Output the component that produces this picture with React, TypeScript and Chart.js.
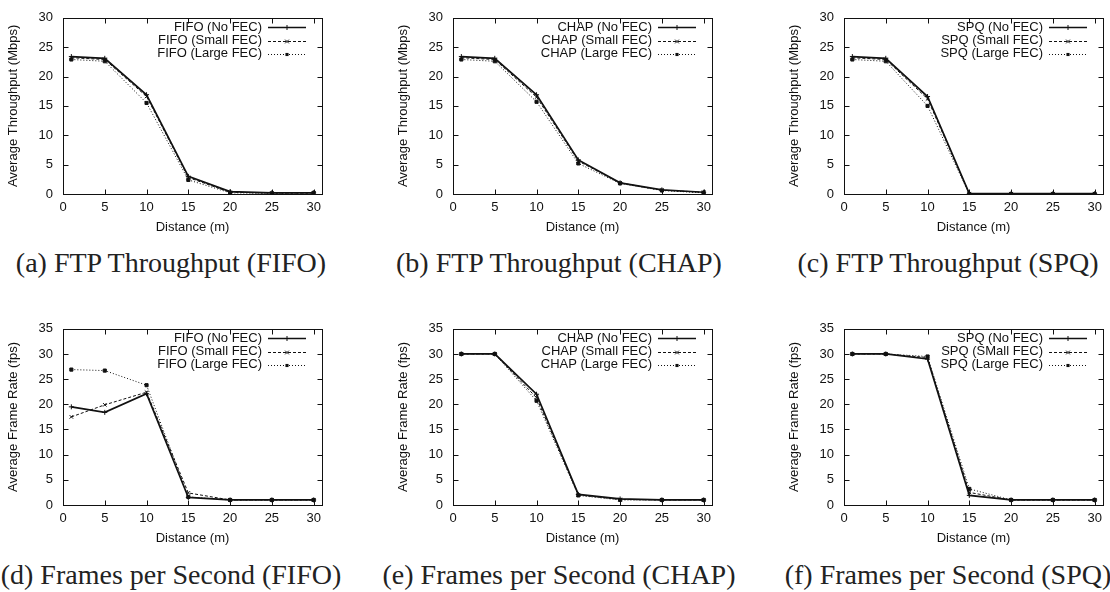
import React, { useEffect, useRef } from 'react';
import { Chart, registerables } from 'chart.js';

Chart.register(...registerables);

// ---------- data ----------
const distances = [1, 5, 10, 15, 20, 25, 30];
const xTickValues = [0, 5, 10, 15, 20, 25, 30];
const throughputTickValues = [0, 5, 10, 15, 20, 25, 30];
const fpsTickValues = [0, 5, 10, 15, 20, 25, 30, 35];

const fifoThrNoFec = [23.4, 23.1, 16.9, 3.0, 0.4, 0.2, 0.2];
const fifoThrSmallFec = [23.2, 22.9, 16.6, 2.8, 0.3, 0.15, 0.15];
const fifoThrLargeFec = [22.9, 22.6, 15.5, 2.4, 0.2, 0.1, 0.2];

const chapThrNoFec = [23.4, 23.1, 16.9, 5.8, 1.9, 0.7, 0.3];
const chapThrSmallFec = [23.2, 22.9, 16.5, 5.6, 1.9, 0.65, 0.3];
const chapThrLargeFec = [22.9, 22.6, 15.7, 5.2, 1.8, 0.6, 0.2];

const spqThrNoFec = [23.4, 23.1, 16.6, 0.05, 0.05, 0.05, 0.05];
const spqThrSmallFec = [23.2, 22.9, 16.2, 0.05, 0.05, 0.05, 0.05];
const spqThrLargeFec = [22.9, 22.6, 15.0, 0.0, 0.0, 0.0, 0.0];

const fifoFpsNoFec = [19.5, 18.4, 22.1, 1.5, 1.0, 1.0, 1.0];
const fifoFpsSmallFec = [17.5, 19.9, 22.4, 2.4, 1.0, 1.0, 1.0];
const fifoFpsLargeFec = [26.9, 26.7, 23.8, 1.6, 1.0, 1.0, 1.0];

const chapFpsNoFec = [30, 30, 22.0, 2.1, 1.2, 1.0, 1.0];
const chapFpsSmallFec = [30, 30, 21.3, 2.0, 1.1, 1.0, 1.0];
const chapFpsLargeFec = [30, 30, 20.7, 1.9, 1.0, 1.0, 1.0];

const spqFpsNoFec = [30, 30, 29.0, 1.9, 1.0, 1.0, 1.0];
const spqFpsSmallFec = [30, 30, 29.3, 2.5, 1.0, 1.0, 1.0];
const spqFpsLargeFec = [30, 30, 29.5, 3.2, 1.0, 1.0, 1.0];

const xTitle = 'Distance (m)';
const thrTitle = 'Average Throughput (Mbps)';
const fpsTitle = 'Average Frame Rate (fps)';

const captions = [
  '(a) FTP Throughput (FIFO)',
  '(b) FTP Throughput (CHAP)',
  '(c) FTP Throughput (SPQ)',
  '(d) Frames per Second (FIFO)',
  '(e) Frames per Second (CHAP)',
  '(f) Frames per Second (SPQ)',
];

// ---------- layout / style ----------
const W = 330;
const H = 240;
const Y_AXIS_W = 63;
const PAD_TOP = 11;
const PLOT_W = 259;
const PLOT_H = 183;
const X_AXIS_H = 41;
const INK = '#111';
const FONT = "'Liberation Sans', Arial, Helvetica, sans-serif";

const kindStyles = [
  { borderWidth: 1.7, borderDash: [] as number[], pointStyle: 'cross', pointRadius: 2.5 },
  { borderWidth: 1, borderDash: [3, 2], pointStyle: 'crossRot', pointRadius: 2.5 },
  { borderWidth: 1, borderDash: [1, 2], pointStyle: 'rect', pointRadius: 2.2 },
];

function drawMarker(ctx: CanvasRenderingContext2D, style: string, x: number, y: number, r: number) {
  ctx.save();
  ctx.setLineDash([]);
  ctx.lineWidth = 1;
  ctx.strokeStyle = INK;
  ctx.fillStyle = INK;
  ctx.beginPath();
  if (style === 'cross') {
    ctx.moveTo(x - r, y); ctx.lineTo(x + r, y);
    ctx.moveTo(x, y - r); ctx.lineTo(x, y + r);
    ctx.stroke();
  } else if (style === 'crossRot') {
    const d = r * 0.75;
    ctx.moveTo(x - d, y - d); ctx.lineTo(x + d, y + d);
    ctx.moveTo(x - d, y + d); ctx.lineTo(x + d, y - d);
    ctx.stroke();
  } else {
    const s = r * Math.SQRT1_2;
    ctx.fillRect(x - s, y - s, 2 * s, 2 * s);
  }
  ctx.restore();
}

const framePlugin = {
  id: 'gnuFrame',
  beforeDatasetsDraw(chart: any) {
    const { ctx, chartArea } = chart;
    const l = Math.round(chartArea.left) + 0.5;
    const r = Math.round(chartArea.right) + 0.5;
    const t = Math.round(chartArea.top) + 0.5;
    const b = Math.round(chartArea.bottom) + 0.5;
    ctx.save();
    ctx.strokeStyle = INK;
    ctx.lineWidth = 1;
    ctx.setLineDash([]);
    ctx.strokeRect(l, t, r - l, b - t);
    const tl = 5;
    ctx.beginPath();
    const xs = chart.scales.x;
    xs.ticks.forEach((tk: any) => {
      const px = Math.round(xs.getPixelForValue(tk.value)) + 0.5;
      ctx.moveTo(px, b); ctx.lineTo(px, b - tl);
      ctx.moveTo(px, t); ctx.lineTo(px, t + tl);
    });
    const ys = chart.scales.y;
    ys.ticks.forEach((tk: any) => {
      const py = Math.round(ys.getPixelForValue(tk.value)) + 0.5;
      ctx.moveTo(l, py); ctx.lineTo(l + tl, py);
      ctx.moveTo(r, py); ctx.lineTo(r - tl, py);
    });
    ctx.stroke();
    ctx.restore();
  },
};

const keyPlugin = {
  id: 'gnuKey',
  afterDatasetsDraw(chart: any) {
    const { ctx, chartArea } = chart;
    const right = chartArea.right;
    ctx.save();
    ctx.font = `13px ${FONT}`;
    ctx.fillStyle = INK;
    ctx.textAlign = 'right';
    ctx.textBaseline = 'middle';
    chart.data.datasets.forEach((ds: any, i: number) => {
      const y = chartArea.top + 9.5 + 13.3 * i;
      ctx.fillText(ds.label, right - 60, y);
      const ly = Math.round(y) + 0.5;
      ctx.save();
      ctx.strokeStyle = INK;
      ctx.lineWidth = ds.borderWidth;
      ctx.setLineDash(ds.borderDash || []);
      ctx.beginPath();
      ctx.moveTo(right - 54, ly);
      ctx.lineTo(right - 16, ly);
      ctx.stroke();
      ctx.restore();
      drawMarker(ctx, ds.pointStyle, right - 35, ly, ds.pointRadius);
    });
    ctx.restore();
  },
};

type PanelProps = {
  left: number;
  top: number;
  yMax: number;
  yTicks: number[];
  yTitle: string;
  labels: string[];
  series: number[][];
};

function Panel({ left, top, yMax, yTicks, yTitle, labels, series }: PanelProps) {
  const ref = useRef<HTMLCanvasElement>(null);
  useEffect(() => {
    const datasets = series.map((vals, k) => ({
      label: labels[k],
      data: distances.map((d, i) => ({ x: d, y: vals[i] })),
      borderColor: INK,
      backgroundColor: INK,
      pointBorderColor: INK,
      pointBackgroundColor: INK,
      pointBorderWidth: 1,
      tension: 0,
      fill: false,
      ...kindStyles[k],
    }));
    const chart = new Chart(ref.current as HTMLCanvasElement, {
      type: 'line',
      data: { datasets } as any,
      plugins: [framePlugin, keyPlugin],
      options: {
        animation: false,
        responsive: false,
        devicePixelRatio: 1,
        events: [],
        layout: {
          padding: {
            left: 0,
            top: PAD_TOP,
            right: W - Y_AXIS_W - PLOT_W,
            bottom: H - PAD_TOP - PLOT_H - X_AXIS_H,
          },
        },
        plugins: { legend: { display: false }, tooltip: { enabled: false } },
        scales: {
          x: {
            type: 'linear',
            min: 0,
            max: 31,
            grid: { display: false, drawTicks: false },
            border: { display: false },
            afterFit: (s: any) => { s.height = X_AXIS_H; },
            afterBuildTicks: (s: any) => { s.ticks = xTickValues.map((v) => ({ value: v })); },
            ticks: {
              color: INK,
              padding: 6,
              font: { family: FONT, size: 13 },
              maxRotation: 0,
              autoSkip: false,
            },
            title: {
              display: true,
              text: xTitle,
              color: INK,
              font: { family: FONT, size: 13, lineHeight: 1.2 },
              padding: { top: 0, bottom: 0 },
            },
          },
          y: {
            type: 'linear',
            min: 0,
            max: yMax,
            grid: { display: false, drawTicks: false },
            border: { display: false },
            afterFit: (s: any) => { s.width = Y_AXIS_W; },
            afterBuildTicks: (s: any) => { s.ticks = yTicks.map((v) => ({ value: v })); },
            ticks: {
              color: INK,
              padding: 10,
              font: { family: FONT, size: 13 },
              autoSkip: false,
            },
            title: {
              display: true,
              text: yTitle,
              color: INK,
              font: { family: FONT, size: 13, lineHeight: 1.2 },
              padding: { top: 6, bottom: 0 },
            },
          },
        },
      } as any,
    });
    return () => chart.destroy();
  }, []);
  return (
    <canvas
      ref={ref}
      width={W}
      height={H}
      style={{ position: 'absolute', left, top, width: W, height: H }}
    />
  );
}

const colLefts = [0, 390, 781];
const rowTops = [0, 311];
const captionCenters = [171, 559, 948];
const captionRowY = [263, 575];

export default function App() {
  const panels: PanelProps[] = [
    { left: colLefts[0], top: rowTops[0], yMax: 30, yTicks: throughputTickValues, yTitle: thrTitle,
      labels: ['FIFO (No FEC)', 'FIFO (Small FEC)', 'FIFO (Large FEC)'],
      series: [fifoThrNoFec, fifoThrSmallFec, fifoThrLargeFec] },
    { left: colLefts[1], top: rowTops[0], yMax: 30, yTicks: throughputTickValues, yTitle: thrTitle,
      labels: ['CHAP (No FEC)', 'CHAP (Small FEC)', 'CHAP (Large FEC)'],
      series: [chapThrNoFec, chapThrSmallFec, chapThrLargeFec] },
    { left: colLefts[2], top: rowTops[0], yMax: 30, yTicks: throughputTickValues, yTitle: thrTitle,
      labels: ['SPQ (No FEC)', 'SPQ (Small FEC)', 'SPQ (Large FEC)'],
      series: [spqThrNoFec, spqThrSmallFec, spqThrLargeFec] },
    { left: colLefts[0], top: rowTops[1], yMax: 35, yTicks: fpsTickValues, yTitle: fpsTitle,
      labels: ['FIFO (No FEC)', 'FIFO (Small FEC)', 'FIFO (Large FEC)'],
      series: [fifoFpsNoFec, fifoFpsSmallFec, fifoFpsLargeFec] },
    { left: colLefts[1], top: rowTops[1], yMax: 35, yTicks: fpsTickValues, yTitle: fpsTitle,
      labels: ['CHAP (No FEC)', 'CHAP (Small FEC)', 'CHAP (Large FEC)'],
      series: [chapFpsNoFec, chapFpsSmallFec, chapFpsLargeFec] },
    { left: colLefts[2], top: rowTops[1], yMax: 35, yTicks: fpsTickValues, yTitle: fpsTitle,
      labels: ['SPQ (No FEC)', 'SPQ (SMall FEC)', 'SPQ (Large FEC)'],
      series: [spqFpsNoFec, spqFpsSmallFec, spqFpsLargeFec] },
  ];
  return (
    <div
      style={{
        position: 'absolute',
        left: 0,
        top: 0,
        width: 1110,
        height: 592,
        overflow: 'hidden',
        background: '#fff',
      }}
    >
      {panels.map((p, i) => (
        <Panel key={i} {...p} />
      ))}
      {captions.map((c, i) => (
        <div
          key={'c' + i}
          style={{
            position: 'absolute',
            left: captionCenters[i % 3],
            top: captionRowY[Math.floor(i / 3)] - 16,
            transform: 'translateX(-50%)',
            whiteSpace: 'nowrap',
            fontFamily: "'Liberation Serif', 'DejaVu Serif', serif",
            fontSize: 28,
            lineHeight: '32px',
            color: '#222',
          }}
        >
          {c}
        </div>
      ))}
    </div>
  );
}
